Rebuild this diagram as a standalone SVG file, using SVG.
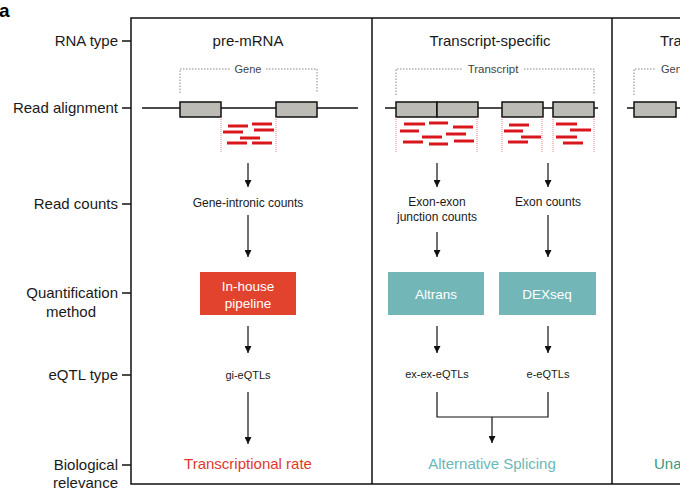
<svg xmlns="http://www.w3.org/2000/svg" width="680" height="500" viewBox="0 0 680 500">
<defs>
<marker id="ah" viewBox="0 0 8 8" refX="8" refY="4" markerWidth="7" markerHeight="7" markerUnits="userSpaceOnUse" orient="auto">
<path d="M0,0 L8,4 L0,8 z" fill="#111"/>
</marker>
<style>
text{font-family:"Liberation Sans",Arial,sans-serif;fill:#1a1a1a}
.lbl{font-size:15px;text-anchor:end}
.ttl{font-size:15px;text-anchor:middle}
.sm{font-size:12px;text-anchor:middle}
.eq{font-size:11px;text-anchor:middle}
.br{font-size:11px;text-anchor:middle;fill:#444}
.bx{font-size:13.5px;text-anchor:middle;fill:#fff}
.frame{stroke:#111;stroke-width:1.5;fill:none}
.tick{stroke:#111;stroke-width:1.5}
.dot{stroke:#888;stroke-width:1;stroke-dasharray:1.5 1.5;fill:none}
.gline{stroke:#111;stroke-width:1.5}
.exon{fill:#bdbbb5;stroke:#111;stroke-width:1.5}
.rd{stroke:#d9161c;stroke-width:3}
.rdot{stroke:#e0606a;stroke-width:0.8;stroke-dasharray:1 1}
.arr{stroke:#111;stroke-width:1.2;fill:none;marker-end:url(#ah)}
.con{stroke:#111;stroke-width:1.2;fill:none}
</style>
</defs>
<rect width="680" height="500" fill="#fff"/>

<text x="-1" y="17" style="font-size:19px;font-weight:bold;fill:#000">a</text>

<g id="row-labels">
<text class="lbl" x="118" y="46">RNA type</text>
<text class="lbl" x="118" y="113">Read alignment</text>
<text class="lbl" x="118" y="209">Read counts</text>
<text class="lbl" x="118" y="298">Quantification</text>
<text x="71" y="317" style="font-size:15px;text-anchor:middle">method</text>
<text class="lbl" x="118" y="470">Biological</text>
<text class="lbl" x="118" y="488">relevance</text>
<text class="lbl" x="118" y="380">eQTL type</text>
<line class="tick" x1="122" y1="41" x2="131" y2="41"/>
<line class="tick" x1="122" y1="108" x2="131" y2="108"/>
<line class="tick" x1="122" y1="204" x2="131" y2="204"/>
<line class="tick" x1="122" y1="293" x2="131" y2="293"/>
<line class="tick" x1="122" y1="375" x2="131" y2="375"/>
<line class="tick" x1="122" y1="465" x2="131" y2="465"/>
</g>

<g id="frame">
<path class="frame" d="M680,18 H131 V484 H680"/>
<line class="frame" x1="372" y1="18" x2="372" y2="484"/>
<line class="frame" x1="612" y1="18" x2="612" y2="484"/>
</g>

<g id="panel-premrna">
<text class="ttl" x="248" y="46">pre-mRNA</text>
<path class="dot" d="M180,93 V69 H230 M266,69 H317 V93"/>
<text class="br" x="248" y="73">Gene</text>
<line class="gline" x1="142" y1="108" x2="358" y2="108"/>
<rect class="exon" x="180" y="102" width="41" height="15"/>
<rect class="exon" x="276" y="102" width="41" height="15"/>
<line class="rdot" x1="221" y1="117" x2="221" y2="152"/>
<line class="rdot" x1="276" y1="117" x2="276" y2="152"/>
<line class="rd" x1="228" y1="126" x2="248" y2="126"/>
<line class="rd" x1="252" y1="124" x2="272" y2="124"/>
<line class="rd" x1="223" y1="132" x2="243" y2="132"/>
<line class="rd" x1="254" y1="130" x2="274" y2="130"/>
<line class="rd" x1="240" y1="138" x2="260" y2="138"/>
<line class="rd" x1="227" y1="143" x2="247" y2="143"/>
<line class="rd" x1="252" y1="143" x2="272" y2="143"/>
</g>

<g id="node-gene-intronic"><text class="sm" x="248" y="207">Gene-intronic counts</text></g>
<g id="node-inhouse">
<rect x="200" y="272" width="96" height="43" fill="#e2432e"/>
<text class="bx" x="248" y="291">In-house</text>
<text class="bx" x="248" y="308">pipeline</text>
</g>
<g id="node-gi-eqtls"><text class="eq" x="248" y="379">gi-eQTLs</text></g>
<g id="node-transcriptional-rate"><text x="248" y="469" style="font-size:15px;text-anchor:middle;fill:#e0392b">Transcriptional rate</text></g>

<g id="panel-transcript">
<text class="ttl" x="490" y="46">Transcript-specific</text>
<path class="dot" d="M396,95 V69 H462 M524,69 H594 V95"/>
<text class="br" x="493" y="73" style="font-size:11.5px">Transcript</text>
<line class="gline" x1="385" y1="108" x2="598" y2="108"/>
<rect class="exon" x="396" y="102" width="41" height="15"/>
<rect class="exon" x="437" y="102" width="41" height="15"/>
<rect class="exon" x="502" y="102" width="41" height="15"/>
<rect class="exon" x="553" y="102" width="41" height="15"/>
<line class="rdot" x1="396" y1="117" x2="396" y2="152"/>
<line class="rdot" x1="477" y1="117" x2="477" y2="152"/>
<line class="rdot" x1="502" y1="117" x2="502" y2="152"/>
<line class="rdot" x1="542" y1="117" x2="542" y2="152"/>
<line class="rdot" x1="553" y1="117" x2="553" y2="152"/>
<line class="rdot" x1="594" y1="117" x2="594" y2="152"/>
<line class="rd" x1="404" y1="124" x2="425" y2="124"/>
<line class="rd" x1="429" y1="123" x2="448" y2="123"/>
<line class="rd" x1="453" y1="127" x2="473" y2="127"/>
<line class="rd" x1="400" y1="131" x2="419" y2="131"/>
<line class="rd" x1="422" y1="137" x2="442" y2="137"/>
<line class="rd" x1="446" y1="134" x2="466" y2="134"/>
<line class="rd" x1="403" y1="142" x2="423" y2="142"/>
<line class="rd" x1="429" y1="144" x2="448" y2="144"/>
<line class="rd" x1="454" y1="141" x2="474" y2="141"/>
<line class="rd" x1="509" y1="125" x2="529" y2="125"/>
<line class="rd" x1="504" y1="131" x2="523" y2="131"/>
<line class="rd" x1="521" y1="137" x2="541" y2="137"/>
<line class="rd" x1="508" y1="142" x2="528" y2="142"/>
<line class="rd" x1="556" y1="124" x2="577" y2="124"/>
<line class="rd" x1="570" y1="130" x2="591" y2="130"/>
<line class="rd" x1="556" y1="137" x2="577" y2="137"/>
<line class="rd" x1="563" y1="143" x2="583" y2="143"/>
</g>

<g id="node-exon-exon">
<text class="sm" x="437" y="206">Exon-exon</text>
<text class="sm" x="437" y="221">junction counts</text>
</g>
<g id="node-exon-counts"><text class="sm" x="548" y="206">Exon counts</text></g>
<g id="node-altrans">
<rect x="388" y="272" width="96" height="43" fill="#72b6b8"/>
<text class="bx" x="436" y="299">Altrans</text>
</g>
<g id="node-dexseq">
<rect x="499" y="272" width="97" height="43" fill="#72b6b8"/>
<text class="bx" x="547" y="299">DEXseq</text>
</g>
<g id="node-ex-ex-eqtls"><text class="eq" x="437" y="378">ex-ex-eQTLs</text></g>
<g id="node-e-eqtls"><text class="eq" x="548" y="378">e-eQTLs</text></g>
<g id="node-alt-splicing"><text x="492" y="469" style="font-size:15px;text-anchor:middle;fill:#6bb8b9">Alternative Splicing</text></g>

<g id="panel-third">
<text x="660" y="46" style="font-size:15px">Tra</text>
<path class="dot" d="M634,95 V69 H656"/>
<text x="661" y="73" style="font-size:11px;fill:#444">Gene</text>
<line class="gline" x1="627" y1="108" x2="680" y2="108"/>
<rect class="exon" x="634" y="102" width="42" height="15"/>
<text x="654" y="469" style="font-size:15px;fill:#3a987a">Una</text>
</g>

<g id="connectors">
<line class="arr" x1="248" y1="163" x2="248" y2="187"/>
<line class="arr" x1="248" y1="215" x2="248" y2="257"/>
<line class="arr" x1="248" y1="326" x2="248" y2="353"/>
<line class="arr" x1="248" y1="392" x2="248" y2="444"/>
<line class="arr" x1="437" y1="163" x2="437" y2="187"/>
<line class="arr" x1="437" y1="232" x2="437" y2="257"/>
<line class="arr" x1="437" y1="326" x2="437" y2="353"/>
<line class="arr" x1="548" y1="163" x2="548" y2="187"/>
<line class="arr" x1="548" y1="215" x2="548" y2="257"/>
<line class="arr" x1="548" y1="326" x2="548" y2="353"/>
<path class="con" d="M437,392 V417 H548 V392"/>
<line class="arr" x1="492" y1="417" x2="492" y2="443"/>
</g>
</svg>
